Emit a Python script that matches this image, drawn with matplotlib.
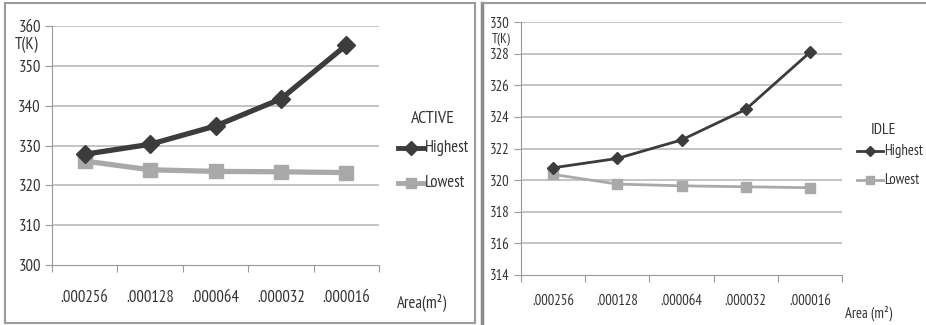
import matplotlib.pyplot as plt
from matplotlib.lines import Line2D

plt.rcParams['font.family'] = ['PT Sans Narrow', 'DejaVu Sans']

areas = [".000256", ".000128", ".000064", ".000032", ".000016"]

active_highest = [327.8, 330.3, 334.9, 341.7, 355.2]
active_lowest  = [326.1, 323.9, 323.5, 323.4, 323.2]

idle_highest = [320.78, 321.37, 322.54, 324.47, 328.08]
idle_lowest  = [320.36, 319.75, 319.64, 319.58, 319.52]

DARK  = "#3c3c3c"
LIGHT = "#a9a9a9"
GRID  = "#c4c4c4"
TEXT  = "#333333"

W, H = 926, 325


def fx(px):
    return px / W


def fy(py):
    return 1 - py / H


def panel(ax, high, low, ylim, step, lw, ms, fs, pad):
    x = range(len(areas))
    ax.set_xlim(-0.5, len(areas) - 0.5)
    ax.set_ylim(*ylim)
    yticks = list(range(ylim[0], ylim[1] + 1, step))
    ax.set_yticks(yticks)
    ax.set_yticklabels([str(t) for t in yticks], fontsize = fs, color = TEXT)
    for t in yticks[1:]:
        ax.axhline(t, color = GRID, lw = 1.4, zorder = 0)

    ax.plot(x, low,  color = LIGHT, lw = lw, marker = "s", ms = ms, zorder = 2)
    ax.plot(x, high, color = DARK,  lw = lw, marker = "D", ms = ms * 0.9, zorder = 3)

    # category ticks sit between the labels, like the spreadsheet chart
    ax.set_xticks([i + 0.5 for i in range(-1, len(areas))])
    ax.set_xticklabels([])
    ax.set_xticks(list(x), minor = True)
    ax.set_xticklabels(areas, minor = True, fontsize = fs, color = TEXT)
    ax.tick_params(axis = "x", which = "minor", length = 0, pad = pad)
    ax.tick_params(axis = "x", which = "major", length = 5, color = "#999999")
    ax.tick_params(axis = "y", length = 5, color = "#999999", pad = 3)

    for side in ["top", "right"]:
        ax.spines[side].set_visible(False)
    ax.spines["left"].set_color("#999999")
    ax.spines["bottom"].set_color("#999999")


def legend(fig, title, tx, ty, lx, rows, lw, ms, fs):
    fig.text(fx(tx), fy(ty), title, ha = "center", va = "center", fontsize = fs + 1, color = TEXT)
    for (label, color, marker), ry in zip([("Highest", DARK, "D"), ("Lowest", LIGHT, "s")], rows):
        fig.add_artist(Line2D([fx(lx), fx(lx + 26)], [fy(ry), fy(ry)], transform = fig.transFigure,
                              color = color, lw = lw))
        fig.add_artist(Line2D([fx(lx + 13)], [fy(ry)], transform = fig.transFigure,
                              color = color, marker = marker, ms = ms))
        fig.text(fx(lx + 27), fy(ry), label, ha = "left", va = "center", fontsize = fs, color = TEXT)


fig = plt.figure(figsize = (W / 100, H / 100), dpi = 100)

ax1 = fig.add_axes([fx(52), fy(265), fx(327), 239 / H])
panel(ax1, active_highest, active_lowest, (300, 360), 10, 3.8, 10, 12, 18)
fig.text(fx(15), fy(45), "T(K)", ha = "left", va = "center", fontsize = 12, color = TEXT)
fig.text(fx(422), fy(302), "Area(m²)", ha = "center", va = "center", fontsize = 12, color = TEXT)
legend(fig, "ACTIVE", 433, 119, 398, [148, 183], 3.5, 7, 12)

ax2 = fig.add_axes([fx(521), fy(275), fx(321), 253 / H])
panel(ax2, idle_highest, idle_lowest, (314, 330), 2, 2.0, 7, 10.5, 14)
fig.text(fx(492), fy(39), "T(K)", ha = "left", va = "center", fontsize = 9.5, color = TEXT)
fig.text(fx(869), fy(313), "Area (m²)", ha = "center", va = "center", fontsize = 10.5, color = TEXT)
legend(fig, "IDLE", 883, 130, 857, [151, 180], 2.0, 5.5, 10.5)

# panel frames
fig.add_artist(plt.Rectangle((fx(5), 2 / H), 470 / W, 320 / H, transform = fig.transFigure,
                             fill = False, edgecolor = "#9a9a9a", lw = 1.5))
fig.add_artist(Line2D([fx(482), fx(482)], [0, fy(3)], transform = fig.transFigure,
                      color = "#8a8a8a", lw = 2.5))
fig.add_artist(Line2D([fx(482), 1], [fy(3), fy(3)], transform = fig.transFigure,
                      color = "#9a9a9a", lw = 1.5))

fig.savefig("out.png", dpi = 100)
